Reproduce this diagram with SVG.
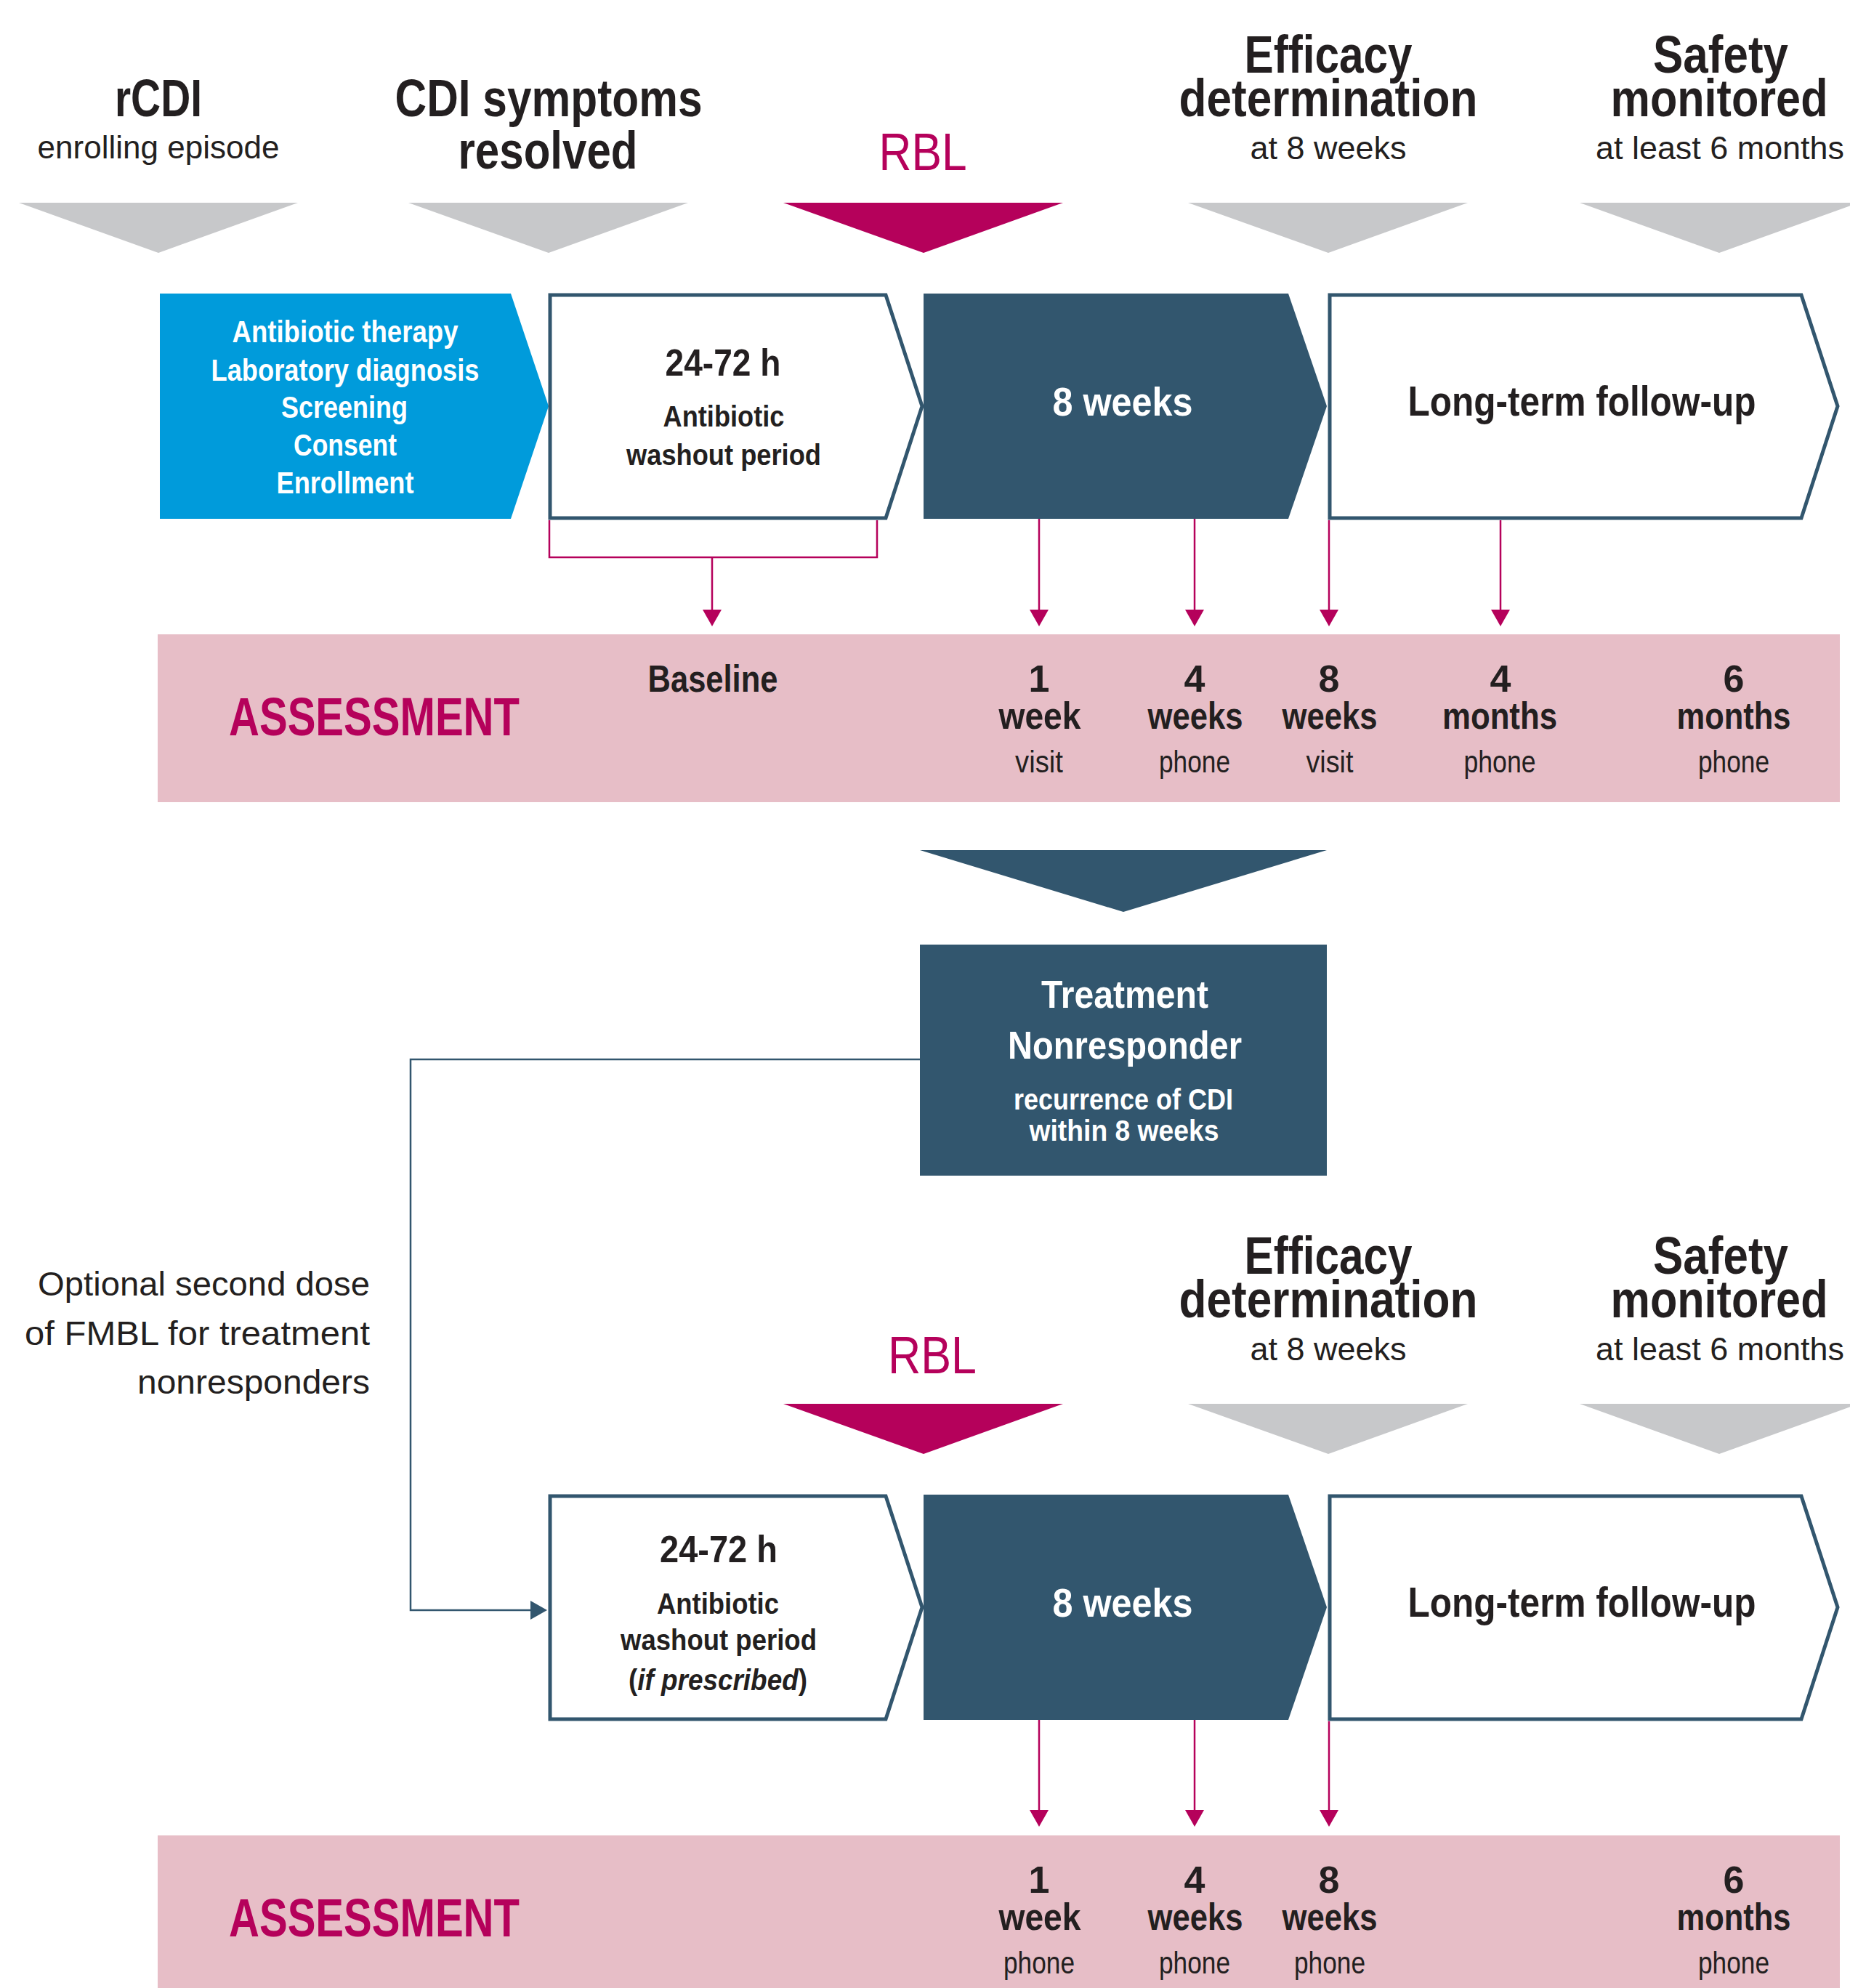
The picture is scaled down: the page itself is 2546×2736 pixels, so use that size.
<svg xmlns="http://www.w3.org/2000/svg" width="2546" height="2736" viewBox="0 0 2546 2736">
<style>
text { font-family: "Liberation Sans", Arial, sans-serif; text-anchor: middle; fill: #231f20; }
.hb { font-size: 73px; font-weight: bold; }
.hr { font-size: 44px; }
.rbl { font-size: 72px; fill: #b5015b; }
.wb { font-size: 43px; font-weight: bold; fill: #ffffff; }
.t52 { font-size: 52px; font-weight: bold; }
.t40 { font-size: 40px; font-weight: bold; }
.w56 { font-size: 56px; font-weight: bold; fill: #ffffff; }
.k57 { font-size: 57px; font-weight: bold; }
.as { font-size: 75px; font-weight: bold; fill: #b5015b; }
.n52 { font-size: 52px; font-weight: bold; }
.r42 { font-size: 42px; }
.tw53 { font-size: 54px; font-weight: bold; fill: #ffffff; }
.tw40 { font-size: 40px; font-weight: bold; fill: #ffffff; }
.opt { font-size: 47px; text-anchor: end; }
.gray { fill: #c7c8ca; }
.mag { fill: #b5015b; }
.dark { fill: #32566e; }
.outline { fill: #ffffff; stroke: #32566e; stroke-width: 5; }
.band { fill: #e7bec7; }
.mline { fill: none; stroke: #b5015b; stroke-width: 2.5; }
.dline { fill: none; stroke: #32566e; stroke-width: 2.5; }
</style>
<defs>
<marker id="am" markerUnits="userSpaceOnUse" markerWidth="23" markerHeight="26" refX="0" refY="13" orient="auto" viewBox="0 0 23 26">
<path d="M0,0 L23,13 L0,26 z" fill="#b5015b"/>
</marker>
<marker id="ad" markerUnits="userSpaceOnUse" markerWidth="23" markerHeight="26" refX="0" refY="13" orient="auto" viewBox="0 0 23 26">
<path d="M0,0 L23,13 L0,26 z" fill="#32566e"/>
</marker>
</defs>
<rect width="2546" height="2736" fill="#ffffff"/>

<!-- Top milestone headers -->
<g id="hdr-rcdi">
<text class="hb" x="218" y="160" textLength="120" lengthAdjust="spacingAndGlyphs">rCDI</text>
<text class="hr" x="218" y="218" textLength="333" lengthAdjust="spacingAndGlyphs">enrolling episode</text>
<polygon class="gray" points="26,279 410,279 218,348"/>
</g>
<g id="hdr-resolved">
<text class="hb" x="755" y="160" textLength="423" lengthAdjust="spacingAndGlyphs">CDI symptoms</text>
<text class="hb" x="754" y="232" textLength="247" lengthAdjust="spacingAndGlyphs">resolved</text>
<polygon class="gray" points="562,279 947,279 755,348"/>
</g>
<g id="hdr-rbl">
<text class="rbl" x="1270" y="234" textLength="121" lengthAdjust="spacingAndGlyphs">RBL</text>
<polygon class="mag" points="1078,279 1463,279 1271,348"/>
</g>
<g id="hdr-efficacy">
<text class="hb" x="1828" y="100" textLength="231" lengthAdjust="spacingAndGlyphs">Efficacy</text>
<text class="hb" x="1828" y="160" textLength="411" lengthAdjust="spacingAndGlyphs">determination</text>
<text class="hr" x="1828" y="219" textLength="215" lengthAdjust="spacingAndGlyphs">at 8 weeks</text>
<polygon class="gray" points="1635,279 2020,279 1828,348"/>
</g>
<g id="hdr-safety">
<text class="hb" x="2368" y="100" textLength="186" lengthAdjust="spacingAndGlyphs">Safety</text>
<text class="hb" x="2366" y="160" textLength="299" lengthAdjust="spacingAndGlyphs">monitored</text>
<text class="hr" x="2367" y="219" textLength="342" lengthAdjust="spacingAndGlyphs">at least 6 months</text>
<polygon class="gray" points="2174,279 2558,279 2366,348"/>
</g>

<!-- Top process row -->
<g id="box-enroll">
<polygon points="220,404 703,404 755,559 703,714 220,714" fill="#009bdb"/>
<text class="wb" x="475" y="471" textLength="311" lengthAdjust="spacingAndGlyphs">Antibiotic therapy</text>
<text class="wb" x="475" y="524" textLength="369" lengthAdjust="spacingAndGlyphs">Laboratory diagnosis</text>
<text class="wb" x="474" y="575" textLength="174" lengthAdjust="spacingAndGlyphs">Screening</text>
<text class="wb" x="475" y="627" textLength="142" lengthAdjust="spacingAndGlyphs">Consent</text>
<text class="wb" x="475" y="679" textLength="189" lengthAdjust="spacingAndGlyphs">Enrollment</text>
</g>
<g id="box-washout1">
<polygon class="outline" points="757,406 1219,406 1269,559 1219,713 757,713"/>
<text class="t52" x="995" y="517" textLength="159" lengthAdjust="spacingAndGlyphs">24-72 h</text>
<text class="t40" x="996" y="587" textLength="167" lengthAdjust="spacingAndGlyphs">Antibiotic</text>
<text class="t40" x="996" y="640" textLength="268" lengthAdjust="spacingAndGlyphs">washout period</text>
</g>
<g id="box-8weeks1">
<polygon class="dark" points="1271,404 1773,404 1826,559 1773,714 1271,714"/>
<text class="w56" x="1545" y="572" textLength="193" lengthAdjust="spacingAndGlyphs">8 weeks</text>
</g>
<g id="box-longterm1">
<polygon class="outline" points="1830,406 2479,406 2529,559 2479,713 1830,713"/>
<text class="k57" x="2177" y="572" textLength="479" lengthAdjust="spacingAndGlyphs">Long-term follow-up</text>
</g>

<!-- Top assessment band -->
<g id="assessment1">
<rect class="band" x="217" y="873" width="2315" height="231"/>
<text class="as" x="515" y="1012" textLength="400" lengthAdjust="spacingAndGlyphs">ASSESSMENT</text>
<text class="n52" x="981" y="952" textLength="179" lengthAdjust="spacingAndGlyphs">Baseline</text>
<text class="n52" x="1430" y="952">1</text>
<text class="n52" x="1431" y="1003" textLength="113" lengthAdjust="spacingAndGlyphs">week</text>
<text class="r42" x="1430" y="1063" textLength="66" lengthAdjust="spacingAndGlyphs">visit</text>
<text class="n52" x="1644" y="952">4</text>
<text class="n52" x="1645" y="1003" textLength="131" lengthAdjust="spacingAndGlyphs">weeks</text>
<text class="r42" x="1644" y="1063" textLength="98" lengthAdjust="spacingAndGlyphs">phone</text>
<text class="n52" x="1829" y="952">8</text>
<text class="n52" x="1830" y="1003" textLength="131" lengthAdjust="spacingAndGlyphs">weeks</text>
<text class="r42" x="1830" y="1063" textLength="65" lengthAdjust="spacingAndGlyphs">visit</text>
<text class="n52" x="2065" y="952">4</text>
<text class="n52" x="2064" y="1003" textLength="158" lengthAdjust="spacingAndGlyphs">months</text>
<text class="r42" x="2064" y="1063" textLength="99" lengthAdjust="spacingAndGlyphs">phone</text>
<text class="n52" x="2386" y="952">6</text>
<text class="n52" x="2386" y="1003" textLength="157" lengthAdjust="spacingAndGlyphs">months</text>
<text class="r42" x="2386" y="1063" textLength="98" lengthAdjust="spacingAndGlyphs">phone</text>
</g>

<!-- Nonresponder -->
<g id="nonresponder">
<polygon class="dark" points="1266,1170 1826,1170 1546,1255"/>
<rect class="dark" x="1266" y="1300" width="560" height="318"/>
<text class="tw53" x="1548" y="1387" textLength="230" lengthAdjust="spacingAndGlyphs">Treatment</text>
<text class="tw53" x="1548" y="1457" textLength="322" lengthAdjust="spacingAndGlyphs">Nonresponder</text>
<text class="tw40" x="1546" y="1527" textLength="302" lengthAdjust="spacingAndGlyphs">recurrence of CDI</text>
<text class="tw40" x="1547" y="1570" textLength="261" lengthAdjust="spacingAndGlyphs">within 8 weeks</text>
</g>
<g id="note-optional">
<text class="opt" x="509" y="1783" textLength="457" lengthAdjust="spacingAndGlyphs">Optional second dose</text>
<text class="opt" x="509" y="1851" textLength="475" lengthAdjust="spacingAndGlyphs">of FMBL for treatment</text>
<text class="opt" x="509" y="1918" textLength="320" lengthAdjust="spacingAndGlyphs">nonresponders</text>
</g>

<!-- Bottom milestone headers -->
<g id="hdr-rbl2">
<text class="rbl" x="1283" y="1890" textLength="122" lengthAdjust="spacingAndGlyphs">RBL</text>
<polygon class="mag" points="1078,1932 1463,1932 1271,2001"/>
</g>
<g id="hdr-efficacy2">
<text class="hb" x="1828" y="1753" textLength="231" lengthAdjust="spacingAndGlyphs">Efficacy</text>
<text class="hb" x="1828" y="1813" textLength="411" lengthAdjust="spacingAndGlyphs">determination</text>
<text class="hr" x="1828" y="1872" textLength="215" lengthAdjust="spacingAndGlyphs">at 8 weeks</text>
<polygon class="gray" points="1635,1932 2020,1932 1828,2001"/>
</g>
<g id="hdr-safety2">
<text class="hb" x="2368" y="1753" textLength="186" lengthAdjust="spacingAndGlyphs">Safety</text>
<text class="hb" x="2366" y="1813" textLength="299" lengthAdjust="spacingAndGlyphs">monitored</text>
<text class="hr" x="2367" y="1872" textLength="342" lengthAdjust="spacingAndGlyphs">at least 6 months</text>
<polygon class="gray" points="2174,1932 2558,1932 2366,2001"/>
</g>

<!-- Bottom process row -->
<g id="box-washout2">
<polygon class="outline" points="757,2059 1219,2059 1269,2212 1219,2366 757,2366"/>
<text class="t52" x="989" y="2150" textLength="162" lengthAdjust="spacingAndGlyphs">24-72 h</text>
<text class="t40" x="988" y="2221" textLength="168" lengthAdjust="spacingAndGlyphs">Antibiotic</text>
<text class="t40" x="989" y="2271" textLength="270" lengthAdjust="spacingAndGlyphs">washout period</text>
<text class="t40" x="988" y="2326" textLength="246" lengthAdjust="spacingAndGlyphs">(<tspan font-style="italic">if prescribed</tspan>)</text>
</g>
<g id="box-8weeks2">
<polygon class="dark" points="1271,2057 1773,2057 1826,2212 1773,2367 1271,2367"/>
<text class="w56" x="1545" y="2225" textLength="193" lengthAdjust="spacingAndGlyphs">8 weeks</text>
</g>
<g id="box-longterm2">
<polygon class="outline" points="1830,2059 2479,2059 2529,2212 2479,2366 1830,2366"/>
<text class="k57" x="2177" y="2225" textLength="479" lengthAdjust="spacingAndGlyphs">Long-term follow-up</text>
</g>

<!-- Bottom assessment band -->
<g id="assessment2">
<rect class="band" x="217" y="2526" width="2315" height="210"/>
<text class="as" x="515" y="2665" textLength="400" lengthAdjust="spacingAndGlyphs">ASSESSMENT</text>
<text class="n52" x="1430" y="2605">1</text>
<text class="n52" x="1431" y="2656" textLength="113" lengthAdjust="spacingAndGlyphs">week</text>
<text class="r42" x="1430" y="2716" textLength="98" lengthAdjust="spacingAndGlyphs">phone</text>
<text class="n52" x="1644" y="2605">4</text>
<text class="n52" x="1645" y="2656" textLength="131" lengthAdjust="spacingAndGlyphs">weeks</text>
<text class="r42" x="1644" y="2716" textLength="98" lengthAdjust="spacingAndGlyphs">phone</text>
<text class="n52" x="1829" y="2605">8</text>
<text class="n52" x="1830" y="2656" textLength="131" lengthAdjust="spacingAndGlyphs">weeks</text>
<text class="r42" x="1830" y="2716" textLength="98" lengthAdjust="spacingAndGlyphs">phone</text>
<text class="n52" x="2386" y="2605">6</text>
<text class="n52" x="2386" y="2656" textLength="157" lengthAdjust="spacingAndGlyphs">months</text>
<text class="r42" x="2386" y="2716" textLength="98" lengthAdjust="spacingAndGlyphs">phone</text>
</g>

<!-- Connectors -->
<g id="connectors">
<path class="mline" d="M756,716 V767 H1207 V716"/>
<path class="mline" d="M980,767 V839" marker-end="url(#am)"/>
<path class="mline" d="M1430,714 V839" marker-end="url(#am)"/>
<path class="mline" d="M1644,714 V839" marker-end="url(#am)"/>
<path class="mline" d="M1829,716 V839" marker-end="url(#am)"/>
<path class="mline" d="M2065,716 V839" marker-end="url(#am)"/>
<path class="dline" d="M1266,1458 H565 V2216 H730" marker-end="url(#ad)"/>
<path class="mline" d="M1430,2367 V2491" marker-end="url(#am)"/>
<path class="mline" d="M1644,2367 V2491" marker-end="url(#am)"/>
<path class="mline" d="M1829,2369 V2491" marker-end="url(#am)"/>
</g>
</svg>
